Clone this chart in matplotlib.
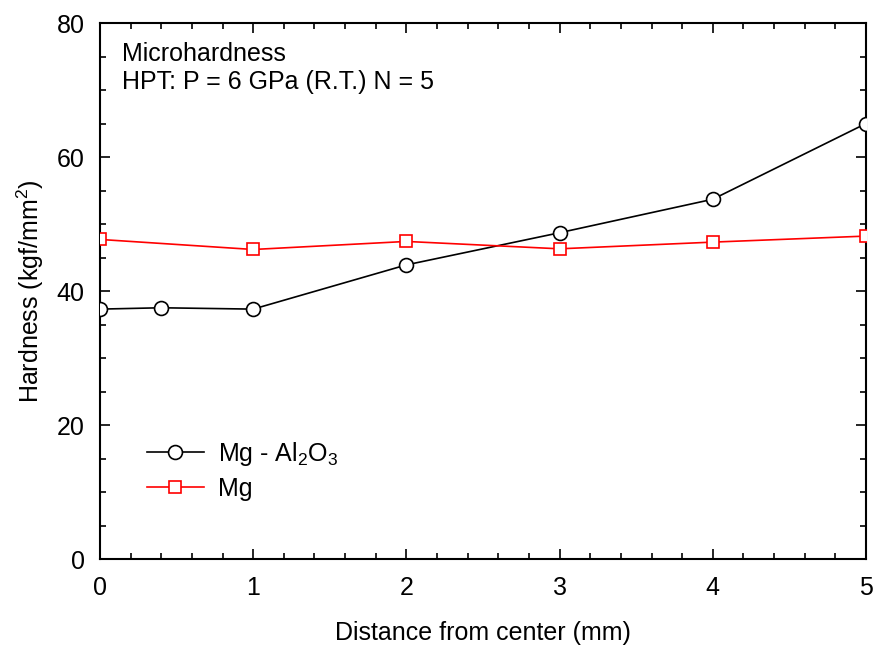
import numpy as np
import matplotlib.pyplot as plt
from matplotlib.ticker import MultipleLocator

plt.rcParams['font.family'] = ['Liberation Sans', 'DejaVu Sans']
plt.rcParams['mathtext.fontset'] = 'custom'
plt.rcParams['mathtext.rm'] = 'Liberation Sans'
plt.rcParams['mathtext.it'] = 'Liberation Sans'

# data
dist_composite = [0, 0.4, 1, 2, 3, 4, 5]
hard_composite = [37.3, 37.5, 37.3, 43.9, 48.7, 53.7, 65.0]

dist_mg = [0, 1, 2, 3, 4, 5]
hard_mg = [47.7, 46.2, 47.4, 46.3, 47.3, 48.2]

fs = 18

fig = plt.figure(figsize=(8.73, 6.45), dpi=100)
ax = fig.add_axes([0.1145, 0.1333, 0.8775, 0.831])

ax.plot(dist_composite, hard_composite, color='k', lw=1.2, marker='o', ms=10,
        mfc='white', mec='k', mew=1.2, label=r'Mg - Al$_2$O$_3$', zorder=3)
ax.plot(dist_mg, hard_mg, color='#ff0000', lw=1.2, marker='s', ms=9,
        mfc='white', mec='#ff0000', mew=1.2, label='Mg', zorder=3)

ax.set_xlim(0, 5)
ax.set_ylim(0, 80)
ax.xaxis.set_major_locator(MultipleLocator(1))
ax.xaxis.set_minor_locator(MultipleLocator(0.2))
ax.yaxis.set_major_locator(MultipleLocator(20))
ax.yaxis.set_minor_locator(MultipleLocator(5))
ax.tick_params(which='both', direction='in', top=True, right=True, labelsize=fs, width=1.2)
ax.tick_params(which='major', length=7)
ax.tick_params(which='minor', length=4)
ax.tick_params(axis='x', which='major', pad=12)
ax.tick_params(axis='y', which='major', pad=11)
for s in ax.spines.values():
    s.set_linewidth(1.5)

# the reference crops this label at the bottom edge; keep it just inside
ax.set_xlabel('Distance from center (mm)', fontsize=fs, labelpad=15)
ax.set_ylabel(r'Hardness (kgf/mm$^2$)', fontsize=fs, labelpad=8)

ax.text(0.029, 0.965, 'Microhardness', transform=ax.transAxes,
        fontsize=fs, va='top', ha='left')
ax.text(0.029, 0.912, 'HPT: P = 6 GPa (R.T.) N = 5', transform=ax.transAxes,
        fontsize=fs, va='top', ha='left')

ax.legend(loc='upper left', bbox_to_anchor=(0.061, 0.222), frameon=False, fontsize=fs,
          handlelength=2.3, handletextpad=0.56, labelspacing=0.36,
          borderaxespad=0, borderpad=0)

plt.savefig('out.png', dpi=100)
